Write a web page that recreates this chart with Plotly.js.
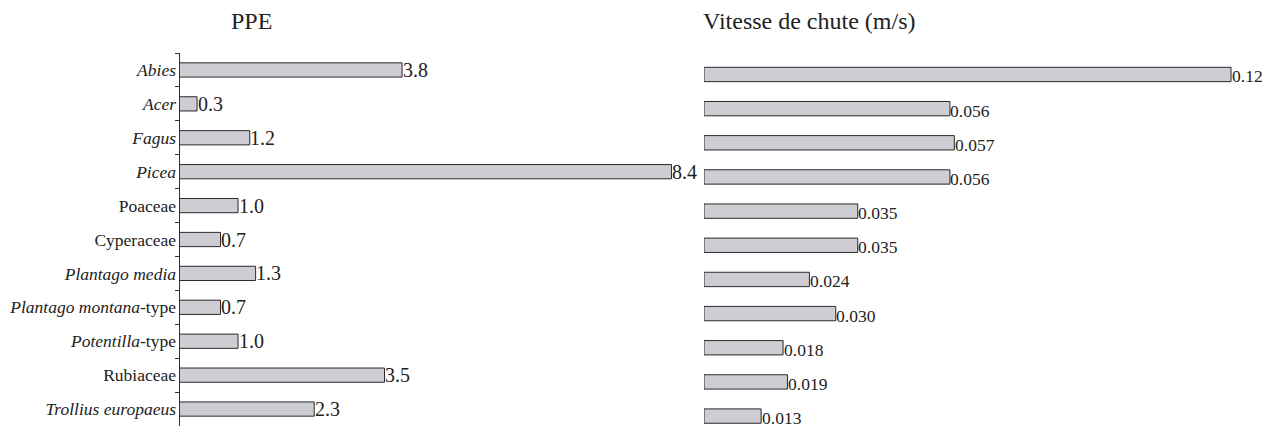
<!DOCTYPE html>
<html><head><meta charset="utf-8">
<script src="https://cdn.plot.ly/plotly-3.0.1.min.js"></script>
<style>body{margin:0;background:#fff}#c{width:1275px;height:427px}</style>
</head><body><div id="c"></div>
<script>
const categories = ["<i>Abies</i>","<i>Acer</i>","<i>Fagus</i>","<i>Picea</i>","Poaceae","Cyperaceae","<i>Plantago media</i>","<i>Plantago montana</i>-type","<i>Potentilla</i>-type","Rubiaceae","<i>Trollius europaeus</i>"];
const ppe = [3.8,0.3,1.2,8.4,1.0,0.7,1.3,0.7,1.0,3.5,2.3];
const ppeLabels = ["3.8","0.3","1.2","8.4","1.0","0.7","1.3","0.7","1.0","3.5","2.3"];
const vitesse = [0.12,0.056,0.057,0.056,0.035,0.035,0.024,0.030,0.018,0.019,0.013];
const vitesseLabels = ["0.12","0.056","0.057","0.056","0.035","0.035","0.024","0.030","0.018","0.019","0.013"];
const titles = ["PPE","Vitesse de chute (m/s)"];

const W=1275,H=427;
const serif = "Liberation Serif";
const barStyle = {color:"#cdcdd3", line:{color:"#2a2a2a", width:1}};
const traces = [
 {type:"bar", orientation:"h", x:ppe, y:categories, xaxis:"x", yaxis:"y", marker:barStyle, width:0.42, hoverinfo:"skip"},
 {type:"bar", orientation:"h", x:vitesse, y:categories, xaxis:"x2", yaxis:"y2", marker:barStyle, width:0.42, hoverinfo:"skip"}
];
const ann = [];
ppe.forEach((v,i)=>ann.push({xref:"x",yref:"y",x:v,y:categories[i],text:ppeLabels[i],showarrow:false,xanchor:"left",xshift:-1.5,font:{family:serif,size:20,color:"#222"}}));
vitesse.forEach((v,i)=>ann.push({xref:"x2",yref:"y2",x:v,y:categories[i],text:vitesseLabels[i],showarrow:false,xanchor:"left",xshift:-1.5,yshift:-2,font:{family:serif,size:17.5,color:"#222"}}));
ann.push({xref:"paper",yref:"paper",x:252/W,y:1-21/H,text:titles[0],showarrow:false,xanchor:"center",yanchor:"middle",font:{family:serif,size:24,color:"#222"}});
ann.push({xref:"paper",yref:"paper",x:701/W,y:1-21/H,text:titles[1],showarrow:false,xanchor:"left",yanchor:"middle",font:{family:serif,size:24,color:"#222"}});

const layout = {
 width:W,height:H,margin:{l:0,r:0,t:0,b:0},paper_bgcolor:"#fff",plot_bgcolor:"#fff",
 showlegend:false, font:{family:serif,color:"#222"},
 xaxis:{domain:[179.5/W,690/W],range:[0,(690-179.5)/58.57],visible:false,fixedrange:true},
 yaxis:{domain:[1/H,(H-53)/H],anchor:"x",type:"category",autorange:false,range:[10.5,-0.5],
   showline:true,linecolor:"#333",linewidth:1,ticks:"outside",tickson:"boundaries",ticklen:4,tickcolor:"#333",
   showgrid:false,zeroline:false,tickfont:{family:serif,size:17.5,color:"#222"},ticklabelstandoff:-1},
 xaxis2:{domain:[704/W,1245/W],range:[0,(1245-704)/4392],visible:false,fixedrange:true},
 yaxis2:{domain:[0,(H-57.4)/H],anchor:"x2",type:"category",autorange:false,range:[10.32,-0.5],visible:false},
 annotations:ann
};
Plotly.newPlot("c",traces,layout,{staticPlot:true});
</script></body></html>
